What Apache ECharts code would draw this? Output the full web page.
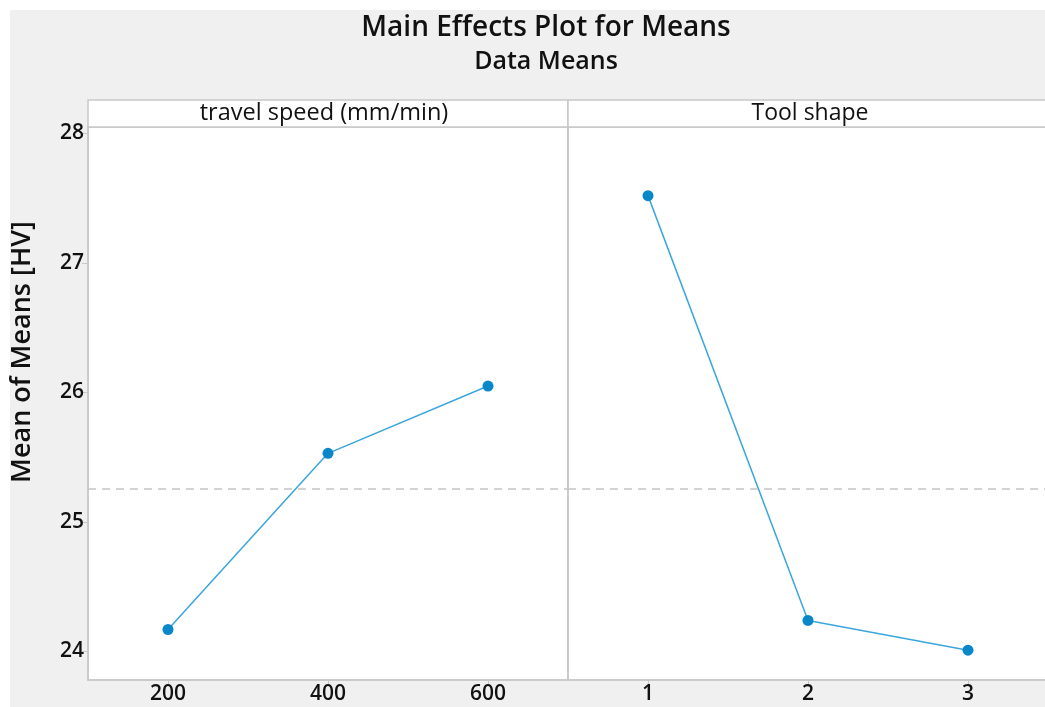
<!DOCTYPE html>
<html>
<head>
<meta charset="utf-8">
<script src="https://cdn.jsdelivr.net/npm/echarts@6/dist/echarts.min.js"></script>
<style>
html,body{margin:0;padding:0;background:#fff;}
#chart{width:1045px;height:707px;}
</style>
</head>
<body>
<div id="chart"></div>
<script>
// ---- data ----
const speedLevels = [200, 400, 600];
const speedMeans = [24.17, 25.53, 26.05];
const shapeLevels = [1, 2, 3];
const shapeMeans = [27.52, 24.24, 24.01];
const grandMean = 25.26;
const yTicks = [24, 25, 26, 27, 28];
const panelTitles = ['travel speed (mm/min)', 'Tool shape'];

const FONT = '"Open Sans", "Noto Sans", sans-serif';
const lineColor = '#3aa6dc';
const dotColor = '#0a87c9';
const frameColor = '#c8c8c8';

const chart = echarts.init(document.getElementById('chart'), null, {renderer: 'canvas'});

function xAxisCfg(idx, min, max, ticks) {
  return {
    type: 'value', gridIndex: idx, min: min, max: max,
    axisLine: {show: true, lineStyle: {color: frameColor, width: 1.5}},
    axisTick: {show: true, length: 6, lineStyle: {color: frameColor}, customValues: ticks},
    axisLabel: {show: true, customValues: ticks, color: '#111', fontSize: 21, fontWeight: 600, fontFamily: FONT, margin: 4},
    splitLine: {show: false}
  };
}
function yAxisCfg(idx, showLabels) {
  return {
    type: 'value', gridIndex: idx, min: 23.78, max: 28.05,
    axisLine: {show: true, lineStyle: {color: frameColor, width: 1.5}},
    axisTick: {show: showLabels, length: 6, lineStyle: {color: frameColor}, customValues: yTicks},
    axisLabel: {show: showLabels, customValues: yTicks, color: '#111', fontSize: 21, fontWeight: 600, fontFamily: FONT, margin: 4},
    splitLine: {show: false}
  };
}
const meanLine = {
  silent: true, symbol: 'none', label: {show: false},
  lineStyle: {color: '#c4c4c4', type: [8, 6], width: 1.5},
  data: [{yAxis: grandMean}]
};
function seriesCfg(idx, xs, ys) {
  return {
    type: 'line', xAxisIndex: idx, yAxisIndex: idx,
    data: xs.map((x, i) => [x, ys[i]]),
    symbol: 'circle', symbolSize: 11,
    lineStyle: {color: lineColor, width: 1.5},
    itemStyle: {color: dotColor},
    markLine: meanLine,
    animation: false
  };
}

chart.setOption({
  backgroundColor: '#ffffff',
  animation: false,
  title: [
    {text: 'Main Effects Plot for Means', left: 541, top: 9, textAlign: 'center',
     textStyle: {fontFamily: FONT, fontSize: 28, fontWeight: 600, color: '#111'}},
    {text: 'Data Means', left: 541, top: 44, textAlign: 'center',
     textStyle: {fontFamily: FONT, fontSize: 25, fontWeight: 600, color: '#111'}}
  ],
  graphic: [
    {type: 'rect', z: -10, silent: true, shape: {x: 10, y: 10, width: 1100, height: 720}, style: {fill: '#f0f0f0'}},
    {type: 'rect', z: 5, silent: true, shape: {x: 88, y: 100, width: 480, height: 27}, style: {fill: '#fff', stroke: frameColor, lineWidth: 1.5}},
    {type: 'rect', z: 5, silent: true, shape: {x: 568, y: 100, width: 520, height: 27}, style: {fill: '#fff', stroke: frameColor, lineWidth: 1.5}},
    {type: 'text', z: 6, silent: true, x: 324, y: 113, style: {text: panelTitles[0], fill: '#111', font: '23.5px ' + FONT, textAlign: 'center', textVerticalAlign: 'middle'}},
    {type: 'text', z: 6, silent: true, x: 810, y: 113, style: {text: panelTitles[1], fill: '#111', font: '23px ' + FONT, textAlign: 'center', textVerticalAlign: 'middle'}},
    {type: 'text', z: 6, silent: true, x: 22, y: 352, rotation: Math.PI / 2, style: {text: 'Mean of Means [HV]', fill: '#111', font: '600 27px ' + FONT, textAlign: 'center', textVerticalAlign: 'middle'}}
  ],
  grid: [
    {left: 88, top: 127, width: 480, height: 553, outerBoundsMode: 'none', containLabel: false, show: true, backgroundColor: '#fff', borderColor: frameColor, borderWidth: 1.5},
    {left: 568, top: 127, width: 520, height: 553, outerBoundsMode: 'none', containLabel: false, show: true, backgroundColor: '#fff', borderColor: frameColor, borderWidth: 1.5}
  ],
  xAxis: [
    xAxisCfg(0, 100, 700, speedLevels),
    xAxisCfg(1, 0.5, 3.75, shapeLevels)
  ],
  yAxis: [yAxisCfg(0, true), yAxisCfg(1, false)],
  series: [
    seriesCfg(0, speedLevels, speedMeans),
    seriesCfg(1, shapeLevels, shapeMeans)
  ]
});
</script>
</body>
</html>
